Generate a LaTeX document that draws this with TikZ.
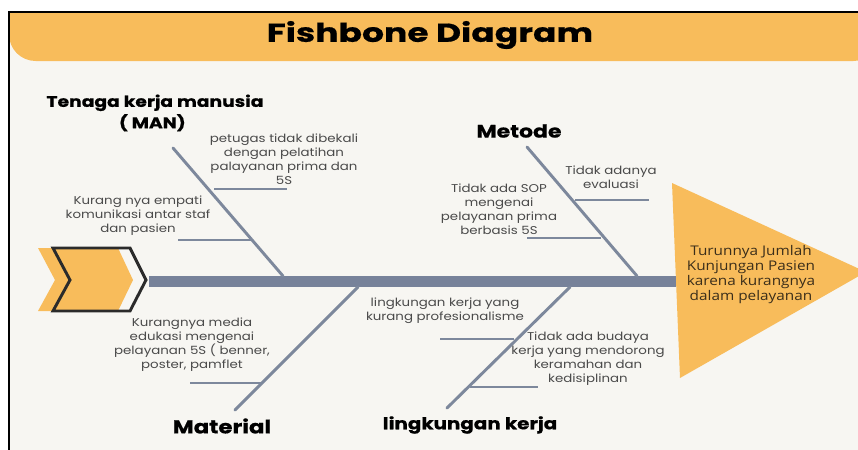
\documentclass[tikz,border=0pt]{standalone}
\usepackage{fontspec}
\newfontfamily\popfont{Poppins}[FakeStretch=1.18]
\newfontfamily\popboldfont{Poppins}[FakeStretch=1.22,FakeBold=0.6]
\newfontfamily\poptitle{Poppins}[FakeStretch=1.33,FakeBold=0.6]
\newfontfamily\opfont{Open Sans}[FakeStretch=1.15]
\definecolor{bgc}{HTML}{F7F6F2}
\definecolor{orangec}{HTML}{F8BC5B}
\definecolor{bonec}{HTML}{7D889C}
\definecolor{spinec}{HTML}{77829A}
\definecolor{txtc}{HTML}{4A4A4A}
\definecolor{headtxt}{HTML}{3B2E1A}
\definecolor{darkc}{HTML}{2B2B2B}
\begin{document}
\begin{tikzpicture}[x=0.75pt,y=-0.75pt,
  bone/.style={draw=bonec,line width=2.2pt,line cap=round},
  twig/.style={draw=bonec,line width=1.9pt},
  smalltxt/.style={font=\popfont\fontsize{8.5}{10.5}\selectfont,text=txtc,align=center,inner sep=0pt},
  cattxt/.style={font=\popboldfont\bfseries\fontsize{11.5}{15}\selectfont,text=black,align=center,inner sep=0pt},
  headtext/.style={font=\opfont\fontsize{10}{11.25}\selectfont,text=headtxt,align=center,inner sep=0pt}]
\useasboundingbox (0,0) rectangle (858,450);
\clip (0,0) rectangle (858,450);
% background and frame
\fill[white] (0,0) rectangle (858,450);
\fill[bgc] (9,12) rectangle (870,460);
\fill[orangec,rounded corners=20] (9,12) -- (9,61) -- (880,61) -- (880,12) -- cycle;
\fill[orangec] (9,12) rectangle (880,36);
\draw[black,line width=1.8pt] (9,460) -- (9,12) -- (880,12);
% title
\node[font=\poptitle\bfseries\fontsize{19.5}{22}\selectfont,inner sep=0pt] (title) at (430,35) {Fishbone Diagram};
% tail chevrons
\fill[orangec] (38,248) -- (118,248) -- (133,280) -- (118,311) -- (38,311) -- (55,280) -- cycle;
\draw[darkc,line width=2.2pt,line join=miter] (53,248) -- (130,248) -- (146,280) -- (130,311) -- (53,311) -- (70,280) -- cycle;
% head
\fill[orangec] (672,183) -- (866,272) -- (680,378) -- cycle;
% spine
\coordinate (spineL) at (149,281.5);
\coordinate (spineR) at (676,281.5);
\draw[spinec,line width=8.25pt] (spineL) -- (spineR);
% bones
\coordinate (manA) at (173,148);  \coordinate (manB) at (283,276);
\coordinate (metA) at (527,147);  \coordinate (metB) at (637,276);
\coordinate (matA) at (235,410);  \coordinate (matB) at (358,287);
\coordinate (linA) at (447,408);  \coordinate (linB) at (570,287);
\draw[bone] (manA) -- (manB);
\draw[bone] (metA) -- (metB);
\draw[bone] (matA) -- (matB);
\draw[bone] (linA) -- (linB);
% twigs
\coordinate (t1a) at (214,189); \coordinate (t1b) at (287,189);
\coordinate (t2a) at (178,240); \coordinate (t2b) at (251,240);
\coordinate (t3a) at (575,200); \coordinate (t3b) at (649,200);
\coordinate (t4a) at (527,238); \coordinate (t4b) at (601,238);
\coordinate (t5a) at (190,383); \coordinate (t5b) at (263,383);
\coordinate (t6a) at (440,339); \coordinate (t6b) at (514,339);
\coordinate (t7a) at (470,387); \coordinate (t7b) at (538,387);
\draw[twig] (t1a) -- (t1b);
\draw[twig] (t2a) -- (t2b);
\draw[twig] (t3a) -- (t3b);
\draw[twig] (t4a) -- (t4b);
\draw[twig] (t5a) -- (t5b);
\draw[twig] (t6a) -- (t6b);
\draw[twig] (t7a) -- (t7b);
% category labels
\node[cattxt] (man) at (155,113) {Tenaga kerja manusia\\[1pt]\hspace*{-4pt}( MAN)};
\node[cattxt,font=\popboldfont\bfseries\fontsize{13.5}{15}\selectfont] (met) at (519,131) {Metode};
\node[cattxt,font=\popboldfont\bfseries\fontsize{14}{15}\selectfont] (mat) at (222,426) {Material};
\node[cattxt,font=\popboldfont\bfseries\fontsize{12.2}{15}\selectfont] (lin) at (470,425) {lingkungan kerja};
% causes
\node[smalltxt] (c1) at (284,159) {petugas tidak dibekali\\dengan pelatihan\\palayanan prima dan\\5S};
\node[smalltxt] (c2) at (138,216) {Kurang nya empati\\komunikasi antar staf\\dan pasien};
\node[smalltxt] (c3) at (611,177) {Tidak adanya\\evaluasi};
\node[smalltxt] (c4) at (499,209) {Tidak ada SOP\\mengenai\\pelayanan prima\\berbasis 5S};
\node[smalltxt] (c5) at (192,345) {Kurangnya media\\edukasi mengenai\\pelayanan 5S ( benner,\\poster, pamflet};
\node[smalltxt] (c6) at (445,311) {lingkungan kerja yang\\kurang profesionalisme};
\node[smalltxt] (c7) at (588,359) {Tidak ada budaya\\kerja yang mendorong\\keramahan dan\\kedisiplinan};
% effect
\node[headtext] (effect) at (751,275) {Turunnya Jumlah\\Kunjungan Pasien\\karena kurangnya\\dalam pelayanan};
\end{tikzpicture}
\end{document}
